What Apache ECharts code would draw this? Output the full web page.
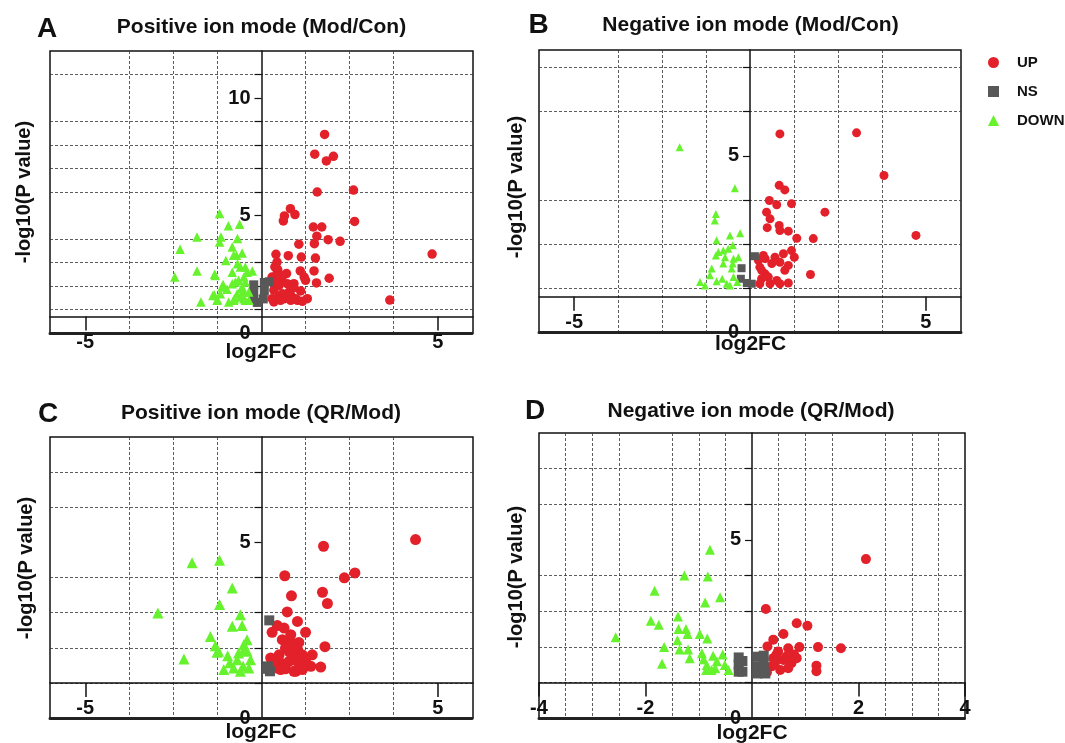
<!DOCTYPE html>
<html>
<head>
<meta charset="utf-8">
<script src="https://cdn.jsdelivr.net/npm/echarts@6/dist/echarts.min.js"></script>
<style>
  html, body { margin: 0; background: #fff; }
  #chart { width: 1065px; height: 743px; }
</style>
</head>
<body>
<div id="chart"></div>
<script>
// ---- data: [log2FC, -log10(P)] ----
const A_UP = [[1.79,8.45],[1.51,7.61],[1.84,7.32],[2.04,7.52],[1.58,6.0],[2.61,6.08],[2.64,4.75],[0.82,5.29],[0.65,4.98],[0.62,4.77],[0.95,5.04],[1.47,4.51],[1.71,4.51],[1.57,4.12],[1.50,3.80],[1.89,3.97],[2.23,3.90],[1.06,3.78],[0.41,3.35],[0.76,3.29],[1.13,3.23],[1.53,3.19],[0.44,3.02],[0.46,2.70],[0.71,2.53],[1.10,2.64],[1.49,2.64],[1.92,2.33],[1.21,2.38],[1.25,2.24],[1.56,2.13],[0.92,2.10],[1.11,1.79],[0.40,2.13],[0.59,2.17],[0.35,1.82],[0.78,1.74],[0.49,1.53],[0.83,1.39],[1.02,1.39],[1.30,1.46],[0.35,1.32],[0.66,1.46],[1.16,1.35],[3.64,1.40],[4.84,3.36],[0.30,2.38],[0.45,2.59],[0.38,2.81],[0.61,2.45],[0.50,2.03],[0.73,2.10],[0.92,1.93],[0.59,1.67],[0.83,1.60],[0.30,1.46],[0.54,1.39],[0.97,1.46],[0.40,2.24]]
const A_NS = [[-0.22,2.05],[-0.22,1.75],[-0.22,1.45],[-0.12,1.30],[0.08,2.15],[0.22,2.18],[0.08,1.80],[0.05,1.45]]
const A_DOWN = [[-1.19,5.08],[-0.94,4.56],[-0.62,4.63],[-1.83,4.09],[-1.15,4.09],[-1.19,3.87],[-0.68,4.02],[-2.31,3.56],[-0.83,3.66],[-1.01,3.09],[-0.71,3.31],[-0.55,3.40],[-0.68,2.95],[-1.83,2.64],[-1.33,2.50],[-2.46,2.38],[-0.83,2.59],[-0.41,2.59],[-0.26,2.64],[-0.50,2.38],[-1.09,2.06],[-0.74,2.17],[-0.98,1.86],[-1.34,1.63],[-1.17,1.67],[-1.72,1.32],[-1.26,1.39],[-0.93,1.32],[-0.77,1.46],[-0.60,1.53],[-0.55,1.96],[-0.65,2.24],[-0.46,1.39],[-0.36,1.74],[-0.50,1.74],[-0.60,2.81],[-0.79,1.39],[-1.31,2.45],[-0.79,3.31],[-0.46,2.81],[-0.46,2.17],[-0.83,2.10],[-0.55,1.89],[-0.69,1.67],[-0.50,1.46],[-0.36,1.39],[-1.12,1.96],[-1.38,1.60],[-1.25,1.42]]

const B_UP = [[0.85,5.62],[3.03,5.65],[3.81,4.44],[4.72,2.74],[2.13,3.40],[0.83,4.16],[0.99,4.03],[0.55,3.73],[0.76,3.61],[1.18,3.64],[0.47,3.40],[0.57,3.21],[0.83,3.02],[0.49,2.96],[0.85,2.88],[1.09,2.86],[1.33,2.66],[1.80,2.65],[1.72,1.63],[0.38,2.17],[0.28,1.84],[0.43,1.65],[0.33,1.51],[0.52,1.56],[0.28,1.37],[0.57,1.37],[0.71,2.12],[0.95,2.22],[1.18,2.31],[1.26,2.12],[0.85,1.98],[1.09,1.89],[0.99,1.75],[0.85,1.37],[1.09,1.39],[0.43,2.08],[0.24,2.03],[0.62,1.94],[0.76,1.46],[0.33,1.75]]
const B_NS = [[0.14,2.15],[-0.24,1.81],[-0.26,1.51],[-0.09,1.39],[0.05,1.37]]
const B_DOWN = [[-2.0,5.24],[-0.43,4.08],[-0.97,3.35],[-1.0,3.16],[-0.95,2.60],[-0.57,2.74],[-0.28,2.80],[-0.90,2.27],[-0.76,2.31],[-0.62,2.36],[-0.49,2.46],[-0.97,2.17],[-0.71,2.12],[-0.47,2.08],[-0.33,2.12],[-0.76,1.94],[-0.49,1.94],[-1.09,1.80],[-0.52,1.80],[-1.14,1.61],[-0.79,1.51],[-0.47,1.56],[-1.42,1.42],[-1.28,1.32],[-0.66,1.37],[-0.57,1.32],[-0.36,1.42],[-0.95,1.44]]

const C_UP = [[1.76,4.89],[4.37,5.08],[0.66,4.05],[2.35,3.99],[2.65,4.13],[0.85,3.48],[1.73,3.58],[1.87,3.26],[0.73,3.02],[0.45,2.63],[1.02,2.75],[0.30,2.44],[0.64,2.56],[1.25,2.44],[0.83,2.15],[1.06,2.15],[1.80,2.03],[0.26,1.71],[0.50,1.80],[0.78,1.90],[1.02,1.95],[0.87,1.76],[1.16,1.80],[1.44,1.80],[0.54,1.57],[0.78,1.61],[1.02,1.61],[1.25,1.61],[1.40,1.47],[1.68,1.45],[0.68,1.40],[0.97,1.33],[1.16,1.38],[0.45,1.42],[0.35,1.61],[0.68,1.99],[0.83,2.37],[0.59,2.23],[0.92,1.33],[0.54,1.38]]
const C_NS = [[0.22,2.78],[0.18,1.47],[0.24,1.33],[0.16,1.40]]
const C_DOWN = [[-1.19,4.49],[-1.97,4.42],[-0.83,3.70],[-1.19,3.23],[-2.94,2.99],[-2.20,1.68],[-0.60,2.94],[-0.83,2.61],[-0.55,2.63],[-1.45,2.32],[-1.31,2.06],[-1.22,1.90],[-0.41,2.23],[-0.50,2.09],[-0.96,1.77],[-0.65,1.85],[-0.41,1.90],[-0.31,1.66],[-1.07,1.38],[-0.90,1.57],[-0.69,1.66],[-0.52,1.47],[-0.60,1.33],[-0.36,1.42],[-0.79,1.42],[-1.26,1.87],[-0.50,1.95]]

const D_UP = [[2.14,4.46],[0.26,3.06],[0.84,2.66],[1.04,2.59],[1.24,1.99],[1.67,1.96],[0.59,2.36],[0.40,2.20],[0.29,2.01],[0.49,1.87],[0.68,1.96],[0.89,1.99],[0.79,1.78],[0.40,1.68],[0.59,1.63],[0.74,1.54],[0.37,1.45],[0.53,1.35],[0.68,1.40],[0.28,1.28],[1.21,1.47],[1.21,1.31],[0.46,1.78],[0.84,1.68],[0.24,1.31],[0.65,1.73],[0.43,1.54]]
const D_NS = [[-0.25,1.70],[-0.25,1.50],[-0.25,1.30],[-0.18,1.60],[-0.18,1.30],[0.10,1.72],[0.10,1.45],[0.10,1.25],[0.22,1.75],[0.22,1.50],[0.25,1.25]]
const D_DOWN = [[-0.79,4.72],[-1.27,4.00],[-0.83,3.97],[-1.83,3.57],[-0.60,3.39],[-0.88,3.24],[-1.90,2.73],[-1.75,2.62],[-1.39,2.85],[-1.38,2.50],[-1.24,2.50],[-1.21,2.36],[-0.98,2.36],[-0.84,2.23],[-1.65,1.99],[-1.40,2.18],[-1.36,1.92],[-1.20,1.92],[-1.17,1.68],[-1.69,1.52],[-0.94,1.82],[-0.91,1.65],[-0.85,1.49],[-0.73,1.75],[-0.66,1.59],[-0.55,1.78],[-0.51,1.49],[-0.76,1.35],[-0.69,1.40],[-0.44,1.35],[-0.86,1.35],[-2.56,2.27]]

// ---- tick labels and grid line values ----
const X_LABELS_5 = [-5, 5]
const X_LABELS_D = [-4, -2, 2, 4]
const X_GRID_5 = [-3.75, -2.5, -1.25, 1.25, 2.5, 3.75]
const X_GRID_D = [-3.5, -3, -2.5, -1.5, -1, -0.5, 0.5, 1, 1.5, 2.5, 3, 3.5]
const Y_LABELS_A = [0, 5, 10]
const Y_LABELS = [0, 5]
const Y_GRID_A = [1, 2, 3, 4, 6, 7, 8, 9, 11]
const Y_TICKS_A = [1, 2, 3, 4, 5, 6, 7, 8, 9, 10, 11]
const Y_GRID_B = [1.25, 2.5, 3.75, 6.25, 7.5]
const Y_TICKS_B = [1.25, 2.5, 3.75, 5, 6.25, 7.5]
const Y_GRID_CD = [1, 2, 3, 4, 6, 7]
const Y_TICKS_CD = [1, 2, 3, 4, 5, 6, 7]

const TITLES = ['Positive ion mode (Mod/Con)', 'Negative ion mode (Mod/Con)', 'Positive ion mode (QR/Mod)', 'Negative ion mode (QR/Mod)']
const LETTERS = ['A', 'B', 'C', 'D']

const FONT = '"Liberation Sans", Arial, sans-serif'
const RED = '#e3212a'
const GRAY = '#585858'
const GREEN = '#66f22d'
const INK = '#111'

const panels = [
  { grid: { left: 50, top: 51, width: 423, height: 282 }, xMin: -6, xMax: 6, yMax: 12, cross: 0.7,
    xLabels: X_LABELS_5, xGrid: X_GRID_5, yLabels: Y_LABELS_A, yGrid: Y_GRID_A, yTicks: Y_TICKS_A,
    up: A_UP, ns: A_NS, down: A_DOWN, size: [9.5, 9, 9.5],
    title: [261.5, 27], letter: [37, 29], yName: [24, 192], xName: [261, 352] },
  { grid: { left: 539, top: 50, width: 422, height: 282 }, xMin: -6, xMax: 6, yMax: 8, cross: 1,
    xLabels: X_LABELS_5, xGrid: X_GRID_5, yLabels: Y_LABELS, yGrid: Y_GRID_B, yTicks: Y_TICKS_B,
    up: B_UP, ns: B_NS, down: B_DOWN, size: [9, 8, 8],
    title: [750.5, 25.5], letter: [528.5, 25], yName: [516, 187], xName: [750.5, 344] },
  { grid: { left: 50, top: 437, width: 423, height: 281 }, xMin: -6, xMax: 6, yMax: 8, cross: 1,
    xLabels: X_LABELS_5, xGrid: X_GRID_5, yLabels: Y_LABELS, yGrid: Y_GRID_CD, yTicks: Y_TICKS_CD,
    up: C_UP, ns: C_NS, down: C_DOWN, size: [11, 10, 11],
    title: [261, 413], letter: [38, 414], yName: [26, 568], xName: [261, 732] },
  { grid: { left: 539, top: 433, width: 426, height: 285 }, xMin: -4, xMax: 4, yMax: 8, cross: 1,
    xLabels: X_LABELS_D, xGrid: X_GRID_D, yLabels: Y_LABELS, yGrid: Y_GRID_CD, yTicks: Y_TICKS_CD,
    up: D_UP, ns: D_NS, down: D_DOWN, size: [10, 10, 10],
    title: [751, 411], letter: [525, 411], yName: [516, 577], xName: [752, 733] }
]

const dash = { color: '#333', width: 0.8, type: [3, 2] }
const boldText = { fontFamily: FONT, fontWeight: 'bold', color: INK }

const grids = []
const xAxes = []
const yAxes = []
const series = []
const texts = []

panels.forEach((p, i) => {
  grids.push(Object.assign({ show: true, borderColor: INK, borderWidth: 1.5, backgroundColor: 'transparent' }, p.grid))

  const xBase = { gridIndex: i, type: 'value', min: p.xMin, max: p.xMax, position: 'bottom' }
  // main x axis, crossing the y axis above zero
  xAxes.push(Object.assign({}, xBase, {
    offset: -p.grid.height * p.cross / p.yMax,
    axisLine: { onZero: false, lineStyle: { color: INK, width: 1.5 } },
    axisTick: { customValues: p.xLabels, length: 14, lineStyle: { color: INK, width: 1.5 } },
    axisLabel: Object.assign({ customValues: p.xLabels, margin: 16, fontSize: 20 }, boldText),
    splitLine: { show: false }
  }))
  // dashed minor grid
  xAxes.push(Object.assign({}, xBase, {
    axisLine: { show: false, onZero: false },
    axisTick: { show: false, customValues: p.xGrid },
    axisLabel: { show: false },
    splitLine: { show: true, lineStyle: dash }
  }))
  // dotted bottom frame
  xAxes.push(Object.assign({}, xBase, {
    axisLine: { onZero: false, lineStyle: { color: '#222', width: 3, type: [2, 1.5] } },
    axisTick: { show: false },
    axisLabel: { show: false },
    splitLine: { show: false }
  }))

  const yBase = { gridIndex: i, type: 'value', min: 0, max: p.yMax, position: 'left' }
  // main y axis drawn at log2FC = 0
  yAxes.push(Object.assign({}, yBase, {
    offset: -p.grid.width * (0 - p.xMin) / (p.xMax - p.xMin),
    axisLine: { onZero: false, lineStyle: { color: INK, width: 1.5 } },
    axisTick: { customValues: p.yTicks, length: 7, lineStyle: { color: INK, width: 1.2 } },
    axisLabel: Object.assign({ customValues: p.yLabels, margin: 11, fontSize: 20 }, boldText),
    splitLine: { show: false }
  }))
  yAxes.push(Object.assign({}, yBase, {
    axisLine: { show: false, onZero: false },
    axisTick: { show: false, customValues: p.yGrid },
    axisLabel: { show: false },
    splitLine: { show: true, lineStyle: dash }
  }))

  const common = { type: 'scatter', xAxisIndex: 3 * i, yAxisIndex: 2 * i, z: 3 }
  series.push(Object.assign({ name: 'UP', data: p.up, symbol: 'circle', symbolSize: p.size[0], itemStyle: { color: RED, opacity: 1 } }, common))
  series.push(Object.assign({ name: 'NS', data: p.ns, symbol: 'rect', symbolSize: p.size[1], itemStyle: { color: GRAY, opacity: 1 } }, common))
  series.push(Object.assign({ name: 'DOWN', data: p.down, symbol: 'triangle', symbolSize: p.size[2], itemStyle: { color: GREEN, opacity: 1 } }, common))

  texts.push({ type: 'text', x: p.title[0], y: p.title[1],
    style: { text: TITLES[i], fontSize: 21, fontWeight: 'bold', fontFamily: FONT, fill: INK, align: 'center', verticalAlign: 'middle' } })
  texts.push({ type: 'text', x: p.letter[0], y: p.letter[1],
    style: { text: LETTERS[i], fontSize: 28, fontWeight: 'bold', fontFamily: FONT, fill: INK, align: 'left', verticalAlign: 'middle' } })
  texts.push({ type: 'text', x: p.yName[0], y: p.yName[1], rotation: Math.PI / 2,
    style: { text: '-log10(P value)', fontSize: 20, fontWeight: 'bold', fontFamily: FONT, fill: INK, align: 'center', verticalAlign: 'middle' } })
  texts.push({ type: 'text', x: p.xName[0], y: p.xName[1],
    style: { text: 'log2FC', fontSize: 21, fontWeight: 'bold', fontFamily: FONT, fill: INK, align: 'center', verticalAlign: 'middle' } })
})

const chart = echarts.init(document.getElementById('chart'), null, { renderer: 'canvas' })
chart.setOption({
  animation: false,
  backgroundColor: '#fff',
  legend: {
    orient: 'vertical',
    left: 988,
    top: 55,
    padding: 0,
    itemWidth: 11,
    itemHeight: 11,
    itemGap: 14,
    selectedMode: false,
    data: [{ name: 'UP', icon: 'circle' }, { name: 'NS', icon: 'rect' }, { name: 'DOWN', icon: 'triangle' }],
    textStyle: Object.assign({ fontSize: 15, padding: [0, 0, 0, 13] }, boldText)
  },
  grid: grids,
  xAxis: xAxes,
  yAxis: yAxes,
  series: series,
  graphic: texts
})
</script>
</body>
</html>
